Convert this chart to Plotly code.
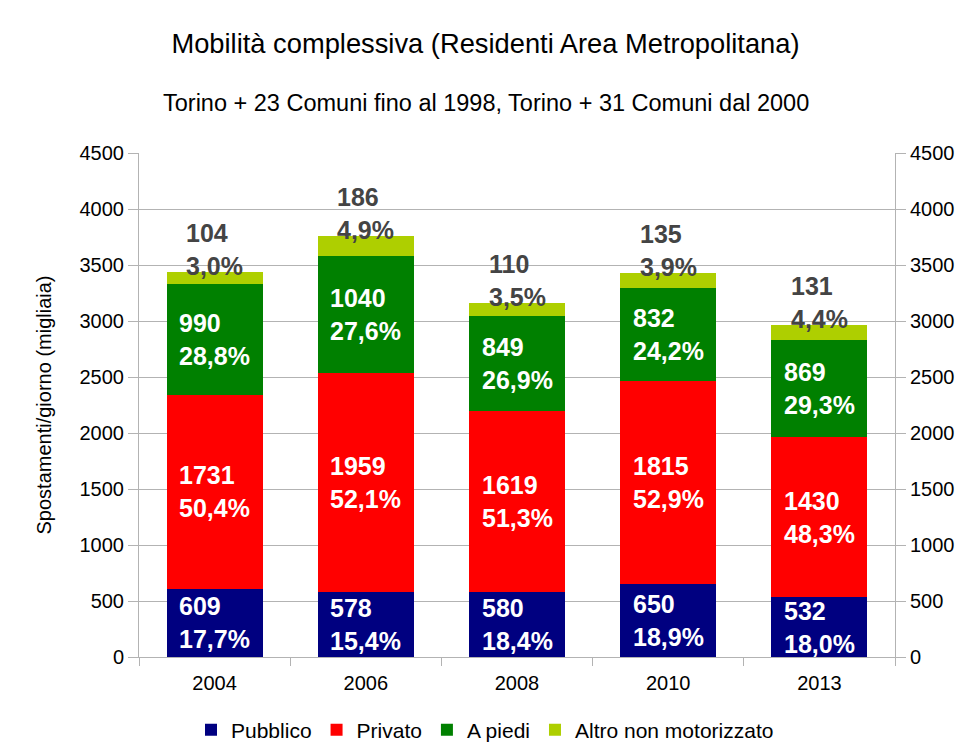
import plotly.graph_objects as go

years = ["2004", "2006", "2008", "2010", "2013"]
pubblico = [609, 578, 580, 650, 532]
privato = [1731, 1959, 1619, 1815, 1430]
a_piedi = [990, 1040, 849, 832, 869]
altro = [104, 186, 110, 135, 131]
pct_pubblico = ["17,7%", "15,4%", "18,4%", "18,9%", "18,0%"]
pct_privato = ["50,4%", "52,1%", "51,3%", "52,9%", "48,3%"]
pct_a_piedi = ["28,8%", "27,6%", "26,9%", "24,2%", "29,3%"]
pct_altro = ["3,0%", "4,9%", "3,5%", "3,9%", "4,4%"]
y_ticks = [0, 500, 1000, 1500, 2000, 2500, 3000, 3500, 4000, 4500]

names = ["Pubblico", "Privato", "A piedi", "Altro non motorizzato"]
colors = ["#000080", "#ff0000", "#008000", "#aecf00"]
series = [pubblico, privato, a_piedi, altro]
pcts = [pct_pubblico, pct_privato, pct_a_piedi, pct_altro]

FONT = "Liberation Sans, Arial, sans-serif"
GRID = "#b3b3b3"
FIG_W, FIG_H = 950, 740
M_L, M_R, M_T, M_B = 131, 63, 145, 91
PLOT_W = FIG_W - M_L - M_R
PLOT_H = FIG_H - M_T - M_B

fig = go.Figure()
for name, col, vals in zip(names, colors, series):
    fig.add_trace(go.Bar(x=years, y=vals, name=name, marker=dict(color=col, line=dict(width=0)),
                         hoverinfo="skip"))

# invisible trace to keep the right axis active
fig.add_trace(go.Scatter(x=years, y=[None] * len(years), yaxis="y2", showlegend=False,
                         hoverinfo="skip", mode="markers"))

annotations = []
base = [0] * len(years)
for idx, (vals, pc) in enumerate(zip(series, pcts)):
    for i, y in enumerate(years):
        if idx < 3:
            annotations.append(dict(
                x=i, y=base[i] + vals[i] / 2, xref="x", yref="y",
                text=f"<b>{vals[i]}<br>{pc[i]}</b>", showarrow=False,
                xanchor="center", yanchor="middle", align="left",
                font=dict(family=FONT, size=25, color="white")))
        else:
            annotations.append(dict(
                x=i, y=base[i] + vals[i], xref="x", yref="y",
                text=f"<b>{vals[i]}<br>{pc[i]}</b>", showarrow=False,
                xanchor="center", yanchor="bottom", align="left", yshift=-10,
                font=dict(family=FONT, size=25, color="#444444")))
        base[i] += vals[i]

annotations.append(dict(
    text="Torino + 23 Comuni fino al 1998, Torino + 31 Comuni dal 2000",
    xref="paper", yref="paper", x=(478 - M_L) / PLOT_W, y=1 + 50 / PLOT_H,
    xanchor="center", yanchor="middle",
    showarrow=False, font=dict(family=FONT, size=23.5, color="#000000")))

fig.update_layout(
    width=FIG_W, height=FIG_H,
    margin=dict(l=M_L, r=M_R, t=M_T, b=M_B, autoexpand=False),
    paper_bgcolor="white", plot_bgcolor="white",
    barmode="stack", bargap=0.365,
    font=dict(family=FONT, size=20, color="#000000"),
    title=dict(
        text="Mobilità complessiva (Residenti Area Metropolitana)",
        x=477.5 / FIG_W, xanchor="center", y=1 - 35 / FIG_H, yanchor="middle",
        font=dict(family=FONT, size=27.3, color="#000000")),
    annotations=annotations,
    showlegend=True,
    legend=dict(orientation="h", x=(477 - M_L) / PLOT_W, xanchor="center", y=-73 / PLOT_H,
                yanchor="middle", font=dict(family=FONT, size=21, color="#000000"),
                traceorder="normal", itemwidth=30),
    xaxis=dict(type="category", categoryorder="array", categoryarray=years, range=[-0.5, 4.5],
               showgrid=False, ticks="outside", tickson="boundaries", automargin=False,
               ticklen=8, tickcolor=GRID, showline=True, linecolor=GRID, linewidth=1,
               ticklabelstandoff=8,
               tickfont=dict(family=FONT, size=20, color="#000000")),
    yaxis=dict(range=[0, 4500], tickvals=y_ticks, showgrid=True, gridcolor=GRID, gridwidth=1,
               ticks="outside", ticklen=10, tickcolor=GRID, showline=True, linecolor=GRID,
               zeroline=False, automargin=False, tickfont=dict(family=FONT, size=20, color="#000000"),
               title=dict(text="Spostamenti/giorno (migliaia)", font=dict(family=FONT, size=20, color="#000000"),
                          standoff=22)),
    yaxis2=dict(range=[0, 4500], tickvals=y_ticks, overlaying="y", side="right", anchor="x",
                showgrid=False, ticks="outside", ticklen=10, tickcolor=GRID, showline=True,
                automargin=False,
                linecolor=GRID, zeroline=False, tickfont=dict(family=FONT, size=20, color="#000000")),
)

fig.write_html("out.html")
